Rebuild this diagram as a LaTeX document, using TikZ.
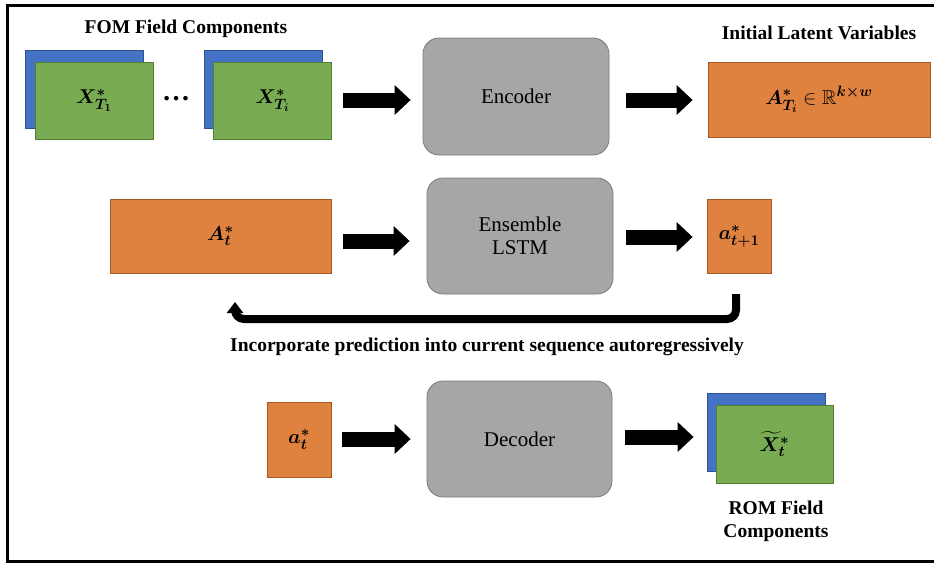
\RequirePackage{fix-cm}
\documentclass[tikz,border=0pt]{standalone}
\usepackage{fontspec}
\setmainfont{Liberation Serif}
\usepackage{amsmath,amssymb,bm}
\usetikzlibrary{arrows.meta}
\DeclareMathSizes{20}{20}{15}{11}
\definecolor{myblue}{HTML}{4472C4}
\definecolor{mybluedark}{HTML}{2F528F}
\definecolor{mygreen}{HTML}{78AB52}
\definecolor{mygreendark}{HTML}{507E32}
\definecolor{myorange}{HTML}{E0823F}
\definecolor{myorangedark}{HTML}{A65A25}
\definecolor{mygray}{HTML}{A6A6A6}
\definecolor{mygraydark}{HTML}{7A7A7A}
\begin{document}
\begin{tikzpicture}[x=1pt,y=-1pt,
  mathfont/.style={font=\fontsize{20}{24}\selectfont},
  bluebox/.style={rectangle,fill=myblue,draw=mybluedark,line width=0.8pt,minimum width=118pt,minimum height=78pt,inner sep=0pt},
  greenbox/.style={rectangle,fill=mygreen,draw=mygreendark,line width=0.8pt,minimum width=118pt,minimum height=77pt,inner sep=0pt,mathfont},
  orangebox/.style={rectangle,fill=myorange,draw=myorangedark,line width=0.8pt,inner sep=0pt,mathfont},
  procbox/.style={rectangle,rounded corners=16pt,fill=mygray,draw=mygraydark,line width=0.8pt,minimum width=186pt,minimum height=117pt,inner sep=0pt,align=center,font=\fontsize{21}{23}\selectfont},
  titletext/.style={inner sep=0pt,align=center,font=\fontsize{19.5}{23}\selectfont\bfseries},
  bigarrow/.style={line width=15pt,-{Triangle[length=16pt,width=29pt]}},
  fbarrow/.style={line width=8pt,rounded corners=9pt,-{Triangle[length=11pt,width=16pt]}}
]
\useasboundingbox (0,0) rectangle (934,565);
% frame
\draw[line width=3pt] (937,5) -- (7.5,5) -- (7.5,561.5) -- (937,561.5);

% row 1
\node[titletext] (fomtitle) at (186,29) {FOM Field Components};
\node[bluebox] (b1) at (84.5,89) {};
\node[greenbox] (g1) at (94,100.5) {$\bm{X^*_{T_1}}$};
\node[anchor=base,inner sep=0pt,font=\fontsize{28}{28}\selectfont\bfseries] (dots) at (176,100.5) {…};
\node[bluebox] (b2) at (263,89) {};
\node[greenbox] (g2) at (272.5,100.5) {$\bm{X^*_{T_i}}$};
\node[procbox] (enc) at (516,96.5) {Encoder};
\node[titletext] (lattitle) at (819,33) {Initial Latent Variables};
\node[orangebox,minimum width=222pt,minimum height=75pt] (ati) at (819,99.5) {$\bm{A^*_{T_i}}\in\mathbb{R}^{\bm{k\times w}}$};
\coordinate (r1) at (0,100);
\draw[bigarrow] (g2.east |- r1) ++(11,0) -- ([xshift=-12pt]enc.west |- r1);
\draw[bigarrow] (enc.east |- r1) ++(17,0) -- ([xshift=-15pt]ati.west |- r1);

% row 2
\node[orangebox,minimum width=221pt,minimum height=74pt] (at) at (220.5,236) {$\bm{A^*_t}$};
\node[procbox,minimum height=116pt] (lstm) at (520,236) {Ensemble\\LSTM};
\node[orangebox,minimum width=64pt,minimum height=74pt] (anext) at (739,236) {$\bm{a^*_{t+1}}$};
\coordinate (r2a) at (0,241);
\coordinate (r2b) at (0,237);
\draw[bigarrow] (at.east |- r2a) ++(12,0) -- ([xshift=-17pt]lstm.west |- r2a);
\draw[bigarrow] (lstm.east |- r2b) ++(13,0) -- ([xshift=-14pt]anext.west |- r2b);

% feedback
\coordinate (fbstart) at (736,294);
\coordinate (fbend) at (235,302);
\draw[fbarrow] (fbstart) -- (736,319) -- (235,319) -- (fbend);
\node[titletext] (fbtext) at (487,347) {Incorporate prediction into current sequence autoregressively};

% row 3
\node[orangebox,minimum width=64pt,minimum height=75pt] (acur) at (299,439.5) {$\bm{a^*_t}$};
\node[procbox,minimum width=185pt,minimum height=116pt] (dec) at (519.5,439) {Decoder};
\node[bluebox] (b3) at (766,432.5) {};
\node[greenbox,minimum width=117pt,minimum height=78pt] (g3) at (774.5,444) {$\bm{\widetilde{X}^*_t}$};
\node[titletext] (romtitle) at (776,521.5) {ROM Field\\Components};
\coordinate (r3a) at (0,439);
\coordinate (r3b) at (0,437);
\draw[bigarrow] (acur.east |- r3a) ++(11,0) -- ([xshift=-16pt]dec.west |- r3a);
\draw[bigarrow] (dec.east |- r3b) ++(13,0) -- ([xshift=-13pt]b3.west |- r3b);
\end{tikzpicture}
\end{document}
